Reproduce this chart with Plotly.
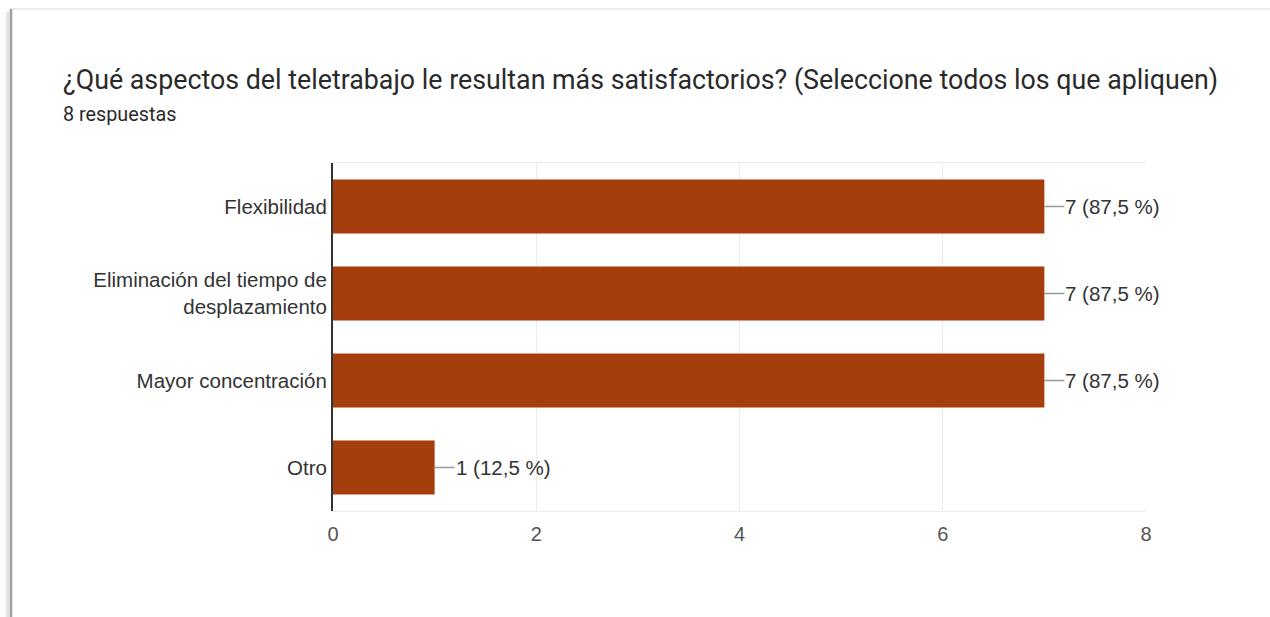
import plotly.graph_objects as go

# Survey results
categories = [
    "Flexibilidad",
    "Eliminación del tiempo de<br>desplazamiento",
    "Mayor concentración",
    "Otro",
]
counts = [7, 7, 7, 1]
total_responses = 8
x_ticks = [0, 2, 4, 6, 8]

title_text = "¿Qué aspectos del teletrabajo le resultan más satisfactorios? (Seleccione todos los que apliquen)"
subtitle_text = f"{total_responses} respuestas"

W, H = 1270, 617
M_L, M_R, M_T, M_B = 333, 124, 163, 106
PW, PH = W - M_L - M_R, H - M_T - M_B


def px_x(px):
    return (px - M_L) / PW


def px_y(py):
    return (H - M_B - py) / PH


labels = [f"{c} ({c / total_responses * 100:.1f} %)".replace(".", ",") for c in counts]

fig = go.Figure(
    go.Bar(
        x=counts,
        y=categories,
        orientation="h",
        marker=dict(color="#A63D0D", line=dict(width=0)),
        width=0.62,
        hoverinfo="skip",
    )
)

shapes = []
annotations = []

# card background with a soft left shadow
shapes.append(dict(type="rect", xref="paper", yref="paper",
                   x0=px_x(11), x1=px_x(1290), y0=px_y(640), y1=px_y(9),
                   fillcolor="white", line=dict(color="#e6e6e6", width=1.5), layer="below"))
for off, col in [(6, "rgba(0,0,0,0.03)"), (4, "rgba(0,0,0,0.06)"), (2.5, "rgba(0,0,0,0.12)")]:
    shapes.append(dict(type="line", xref="paper", yref="paper",
                       x0=px_x(11 - off), x1=px_x(11 - off), y0=px_y(640), y1=px_y(12),
                       line=dict(color=col, width=2), layer="below"))
shapes.append(dict(type="line", xref="paper", yref="paper",
                   x0=px_x(11), x1=px_x(11), y0=px_y(640), y1=px_y(9),
                   line=dict(color="#a0a0a0", width=2.5), layer="below"))

label_font = dict(family="Liberation Sans, Arial", size=20.5, color="#333333")

# value labels with short leader lines
for cat, val, lab in zip(categories, counts, labels):
    shapes.append(dict(type="line", xref="x", yref="y", xsizemode="pixel",
                       xanchor=val, x0=0, x1=20, y0=cat, y1=cat,
                       line=dict(color="#999999", width=1.5)))
    annotations.append(dict(x=val, y=cat, xref="x", yref="y", text=lab,
                            showarrow=False, xanchor="left", yanchor="middle",
                            xshift=19, font=label_font))

annotations.append(dict(x=px_x(61), y=px_y(80), xref="paper", yref="paper",
                        text=title_text, showarrow=False, xanchor="left", yanchor="middle",
                        font=dict(family="Roboto", size=26.8, color="#2a2a2a")))
annotations.append(dict(x=px_x(61), y=px_y(115), xref="paper", yref="paper",
                        text=subtitle_text, showarrow=False, xanchor="left", yanchor="middle",
                        font=dict(family="Roboto", size=19.8, color="#2a2a2a")))

fig.update_layout(
    width=W, height=H,
    margin=dict(l=M_L, r=M_R, t=M_T, b=M_B, pad=0),
    paper_bgcolor="white",
    plot_bgcolor="white",
    showlegend=False,
    bargap=0.38,
    shapes=shapes,
    annotations=annotations,
    xaxis=dict(
        range=[0, 8],
        tickvals=x_ticks,
        ticktext=[str(t) for t in x_ticks],
        showgrid=True, gridcolor="#ebebeb", gridwidth=1,
        zeroline=False,
        showline=True, mirror=True, linecolor="#ebebeb", linewidth=1,
        ticks="", ticklabelstandoff=5,
        tickfont=dict(family="Liberation Sans, Arial", size=20, color="#555555"),
        fixedrange=True,
    ),
    yaxis=dict(
        categoryorder="array",
        categoryarray=categories[::-1],
        showgrid=False, zeroline=False,
        showline=True, linecolor="#333333", linewidth=2,
        ticks="", ticklabelstandoff=0,
        tickfont=label_font,
        fixedrange=True,
    ),
)

fig.write_html("out.html", config={"displayModeBar": False})
